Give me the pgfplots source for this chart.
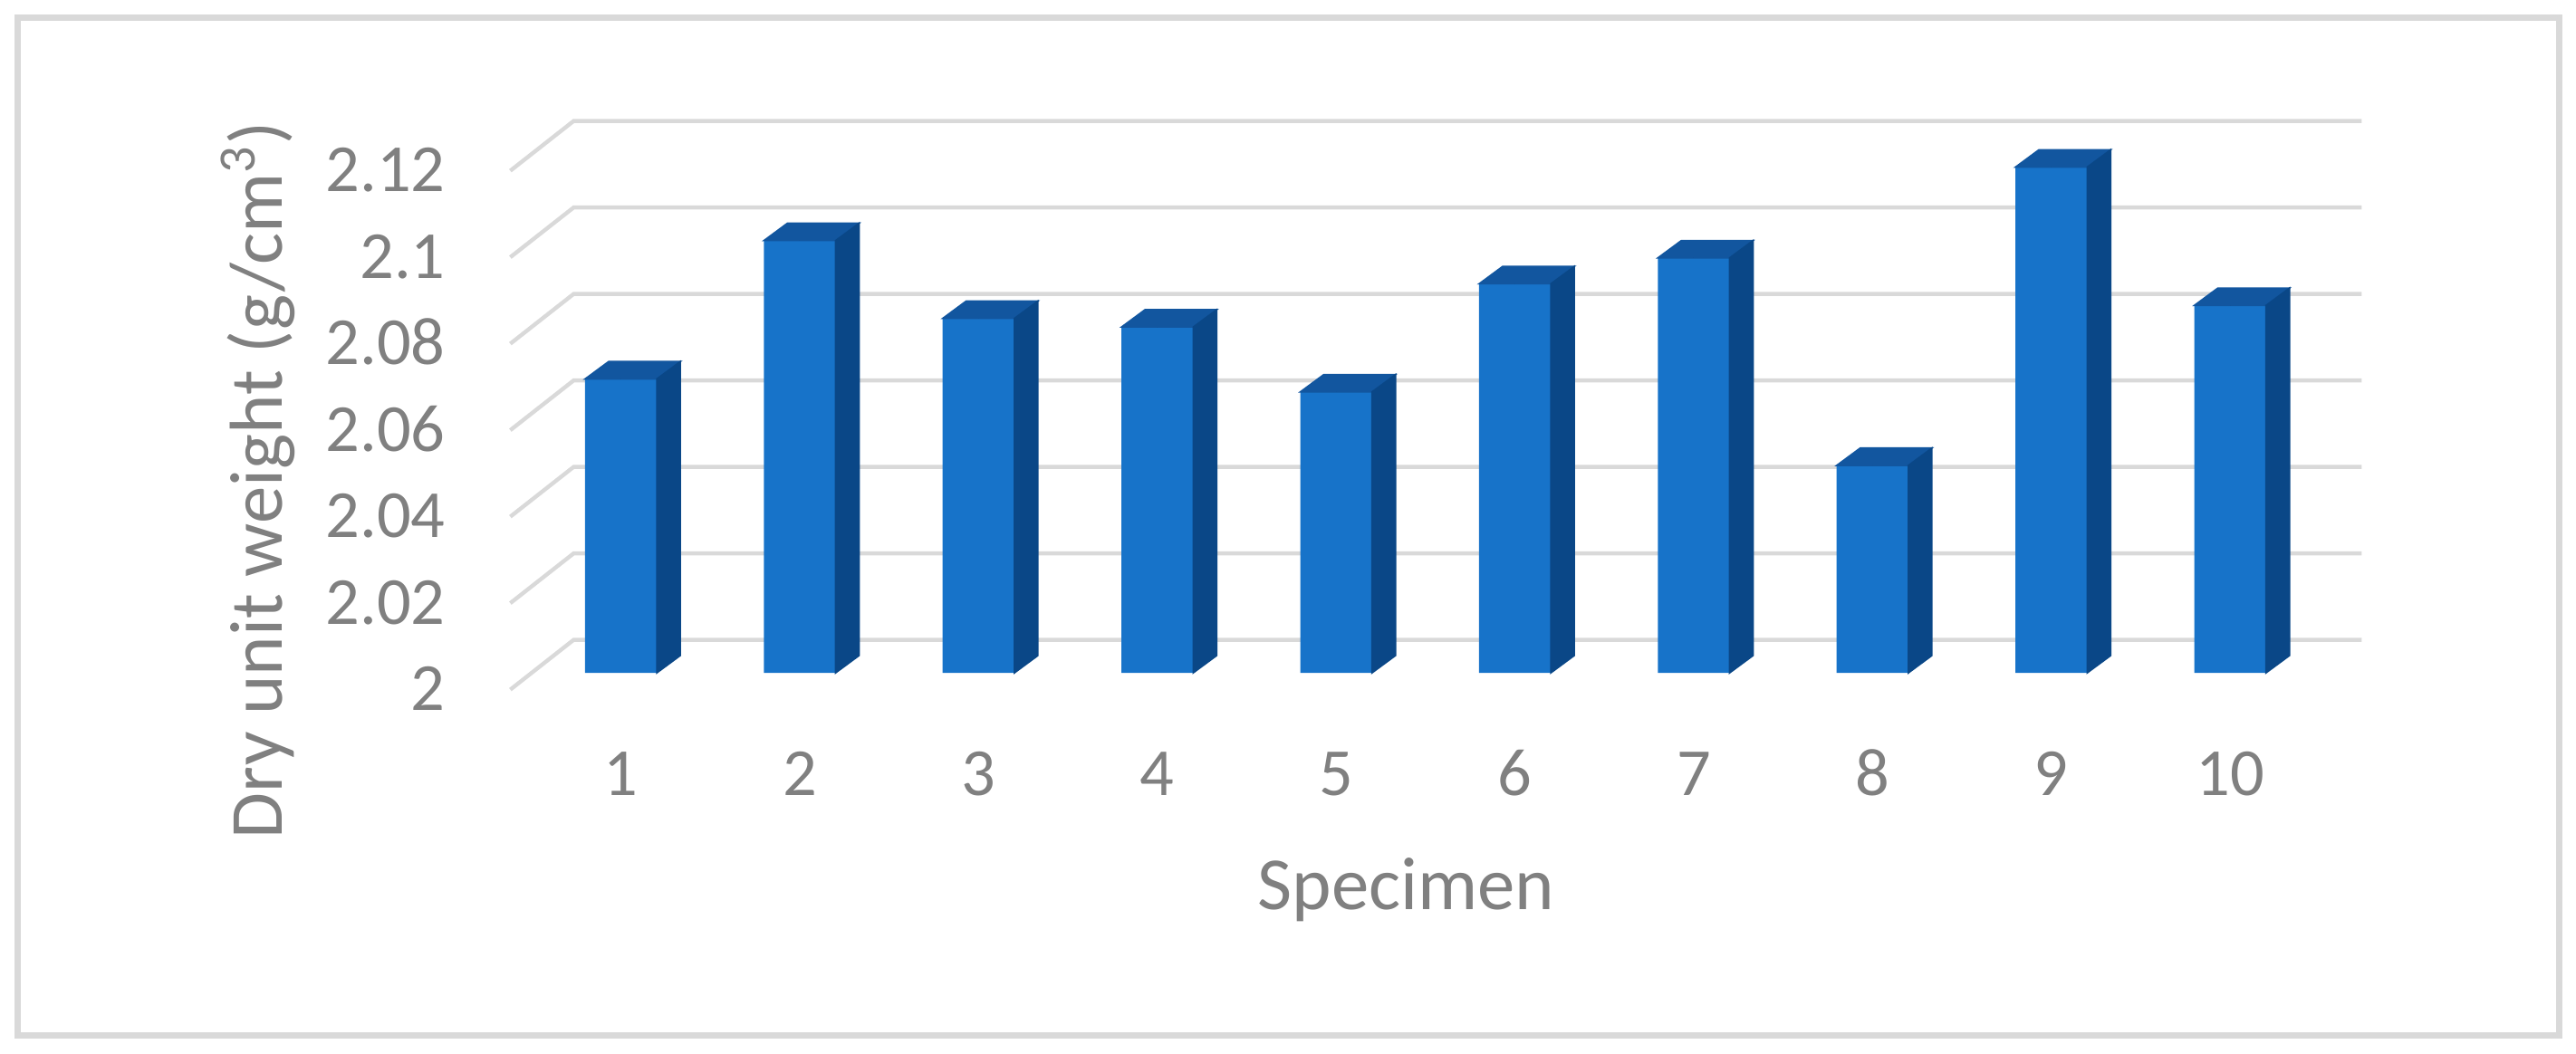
\documentclass[border=0pt]{standalone}
\usepackage{pgfplots}
\pgfplotsset{compat=1.18}
\usepackage{pgfplotstable}
\usepackage{fontspec}
\setmainfont{Carlito}
\definecolor{txt}{HTML}{808080}
\definecolor{gridc}{HTML}{D9D9D9}
\definecolor{frontc}{HTML}{1773C9}
\definecolor{topc}{HTML}{12569F}
\definecolor{sidec}{HTML}{0A4787}

\pgfplotstableread{
x y
1 2.068
2 2.100
3 2.082
4 2.080
5 2.065
6 2.090
7 2.096
8 2.048
9 2.117
10 2.085
}\datatable

\begin{document}
\begin{tikzpicture}
\path[use as bounding box] (-146.7pt,-105.2pt) rectangle (564.3pt,185.8pt);
\begin{axis}[
  at={(0,0)}, anchor=south west,
  scale only axis, width=493.5pt, height=143.25pt,
  xmin=0.5, xmax=10.5, ymin=0, ymax=0.12,
  clip=false,
  axis line style={draw=none},
  major tick style={draw=none},
  xtick={1,2,3,4,5,6,7,8,9,10},
  xticklabels={1,2,3,4,5,6,7,8,9,10},
  ytick={0,0.02,0.04,0.06,0.08,0.1,0.12},
  yticklabels={2,2.02,2.04,2.06,2.08,2.1,2.12},
  every tick label/.append style={font=\fontsize{18.6}{22}\selectfont, text=txt, inner sep=0pt},
  yticklabel style={anchor=base east, xshift=-23.6pt, yshift=-10.4pt},
  xticklabel style={anchor=base, yshift=-33.75pt},
  xlabel={Specimen},
  ylabel={Dry unit weight (g/cm\textsuperscript{3})},
  every axis x label/.style={at={(axis description cs:0.4893,0)}, anchor=base, yshift=-65.4pt, font=\fontsize{20.7}{24}\selectfont, text=txt, inner sep=0pt},
  every axis y label/.style={at={(axis description cs:-0.1393,0.3714)}, anchor=base, rotate=90, font=\fontsize{20.7}{24}\selectfont, text=txt, inner sep=0pt},
]
\pgfplotsinvokeforeach{0,0.02,0.04,0.06,0.08,0.1,0.12}{
  \draw[gridc, line width=1.1pt] (axis cs:0.5,#1) ++(-5.85pt,-4.6pt) -- ++(17.5pt,13.75pt) -- ++(493.5pt,0pt);
}
\addplot[ybar, bar width=19.8pt, bar shift=0pt, fill=frontc, draw=none]
  table[x=x, y expr=\thisrow{y}-2] {\datatable};
\addplot[scatter, only marks, mark=*, mark size=0pt,
  mark options={draw=none, fill=none},
  point meta={\thisrow{y}-2}, point meta min=0, point meta max=0.12,
  scatter/@pre marker code/.code={%
    \pgfmathsetmacro\barH{\pgfplotspointmetatransformed*0.14325}%
    \begin{scope}
    \fill[topc] (-9.9pt,0pt) -- (-3.4pt,4.8pt) -- (16.4pt,4.8pt) -- (9.9pt,0pt) -- cycle;
    \fill[sidec] (9.9pt,0pt) -- (16.4pt,4.8pt) -- (16.4pt,4.8pt-\barH pt) -- (9.9pt,-\barH pt) -- cycle;
  },
  scatter/@post marker code/.code={\end{scope}},
] table[x=x, y expr=\thisrow{y}-2] {\datatable};
\end{axis}
\draw[gridc, line width=1.75pt] (-141.825pt,-100.2pt) rectangle (559.55pt,180.925pt);
\end{tikzpicture}
\end{document}
